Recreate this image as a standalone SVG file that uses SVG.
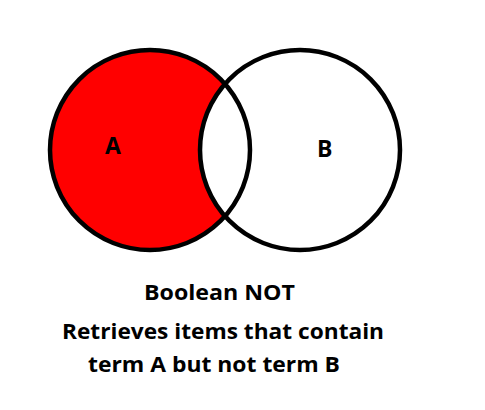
<svg xmlns="http://www.w3.org/2000/svg" width="485" height="410" viewBox="0 0 485 410">
  <style>
    .ring { fill: none; stroke: #000; stroke-width: 4.5; }
    .lbl { font-family: "Open Sans", "Liberation Sans", sans-serif; font-weight: bold; fill: #000; }
  </style>
  <rect width="485" height="410" fill="#fff"/>
  <g id="setA-fill">
    <circle cx="150" cy="150" r="100" fill="#ff0000"/>
  </g>
  <g id="setB-fill">
    <circle cx="300" cy="150" r="100" fill="#ffffff"/>
  </g>
  <g id="outlines">
    <circle class="ring" cx="150" cy="150" r="100"/>
    <circle class="ring" cx="300" cy="150" r="100"/>
  </g>
  <g id="labelA">
    <text class="lbl" x="105" y="154" font-size="23">A</text>
  </g>
  <g id="labelB">
    <text class="lbl" x="317" y="157" font-size="23">B</text>
  </g>
  <g id="caption">
    <text class="lbl" x="144" y="300" font-size="22" textLength="151" lengthAdjust="spacingAndGlyphs">Boolean NOT</text>
    <text class="lbl" x="62" y="339" font-size="22" textLength="322" lengthAdjust="spacingAndGlyphs">Retrieves items that contain</text>
    <text class="lbl" x="88" y="372" font-size="22" textLength="252" lengthAdjust="spacingAndGlyphs">term A but not term B</text>
  </g>
</svg>
